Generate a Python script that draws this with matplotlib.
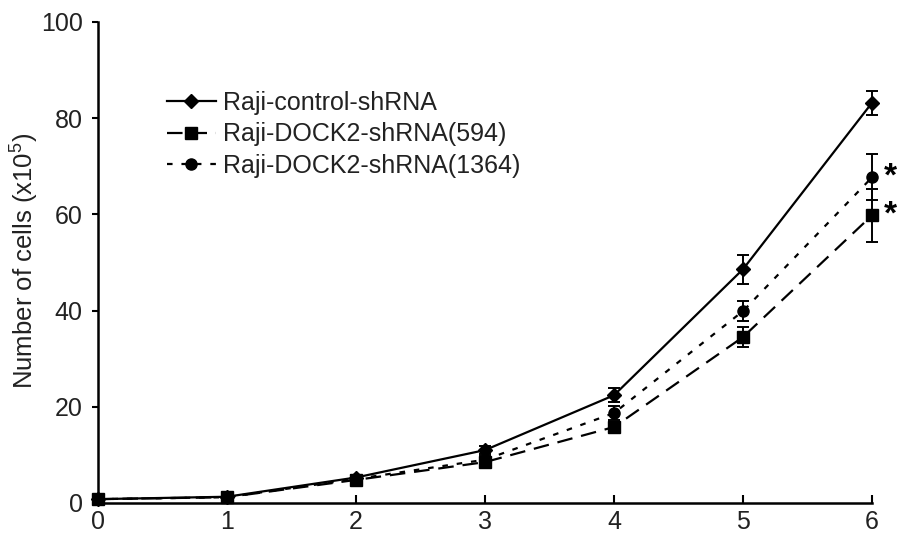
import matplotlib
matplotlib.use("Agg")
import matplotlib.pyplot as plt
import numpy as np

plt.rcParams['font.family'] = ['Liberation Sans', 'DejaVu Sans']
plt.rcParams['mathtext.fontset'] = 'custom'
plt.rcParams['mathtext.rm'] = 'Liberation Sans'
plt.rcParams['mathtext.it'] = 'Liberation Sans'

days = [0, 1, 2, 3, 4, 5, 6]
labels = ["Raji-control-shRNA", "Raji-DOCK2-shRNA(594)", "Raji-DOCK2-shRNA(1364)"]
control = [0.8, 1.3, 5.3, 11.0, 22.4, 48.6, 83.2]
control_err = [0.2, 0.3, 0.5, 0.8, 1.5, 3.0, 2.5]
sh594 = [0.8, 1.2, 4.8, 8.5, 15.8, 34.5, 59.8]
sh594_err = [0.2, 0.3, 0.5, 0.8, 1.0, 2.0, 5.5]
sh1364 = [0.8, 1.2, 5.0, 9.0, 18.7, 39.9, 67.7]
sh1364_err = [0.2, 0.3, 0.5, 0.8, 1.5, 2.0, 4.8]
sig_points = [(6, 67.7), (6, 59.8)]

fig = plt.figure(figsize=(9.02, 5.37), dpi=100)
ax = fig.add_axes([98/902, 1-503/537, (872-98)/902, (503-22)/537])

common = dict(color='black', linewidth=1.6, capsize=4,
              elinewidth=1.4, capthick=1.4, clip_on=False)
e1 = ax.errorbar(days, control, yerr=control_err, marker='D', linestyle='-',
                 markersize=7, label=labels[0], **common)
e2 = ax.errorbar(days, sh594, yerr=sh594_err, marker='s', linestyle=(0, (7, 4)),
                 markersize=8, label=labels[1], **common)
e3 = ax.errorbar(days, sh1364, yerr=sh1364_err, marker='o', linestyle=(0, (2.5, 4)),
                 markersize=8, label=labels[2], **common)

for x, y in sig_points:
    ax.text(x + 0.09, y, '*', fontsize=24, fontweight='bold', ha='left', va='center')

ax.set_xlim(0, 6)
ax.set_ylim(0, 100)
ax.set_xticks(days)
ax.set_yticks([0, 20, 40, 60, 80, 100])
ax.tick_params(axis='x', direction='in', length=6, width=1.5, labelsize=18, pad=5,
               labelcolor='#222222')
ax.tick_params(axis='y', direction='out', length=4, width=1.5, labelsize=18, pad=7,
               labelcolor='#222222')
for s in ['top', 'right']:
    ax.spines[s].set_visible(False)
for s in ['left', 'bottom']:
    ax.spines[s].set_linewidth(1.8)

fig.text(25/902, 1-261/537, 'Number of cells (x10$^{5}$)', fontsize=18.5, rotation=90,
         ha='center', va='center', color='#222222')

handles = [e1[0], e2[0], e3[0]]
leg = ax.legend(handles, labels, loc='upper left', bbox_to_anchor=(0.089, 0.857),
                frameon=False, fontsize=18, handlelength=1.95, handletextpad=0.3,
                labelspacing=0.3, borderpad=0, borderaxespad=0)
for t in leg.get_texts():
    t.set_color('#222222')

fig.savefig('out.png', dpi=100)
